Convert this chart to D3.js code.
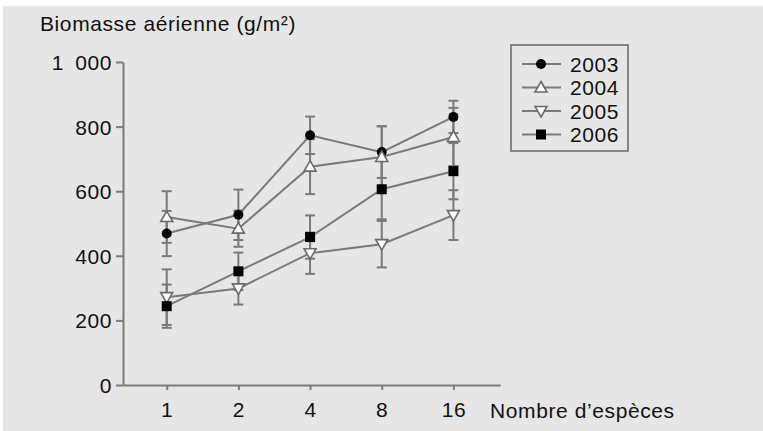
<!DOCTYPE html>
<html lang="fr">
<head>
<meta charset="UTF-8">
<script src="https://d3js.org/d3.v7.min.js"></script>
<style>
    body { margin: 0; background: #fff; }
    svg { display: block; }
    text { font-family: "Liberation Sans", Arial, sans-serif; fill: #111; }
</style>
</head>
<body>
<svg width="763" height="431"></svg>
<script>
const species = [1, 2, 4, 8, 16];
const years = ["2003", "2004", "2005", "2006"];
const yTicks = [0, 200, 400, 600, 800, 1000];
const yTickLabels = ["0", "200", "400", "600", "800", "1\u2002000"];

// biomasse moyenne (g/m²) et erreur standard
const mean2003 = [469, 527, 773, 721, 830];
const err2003  = [70, 78, 58, 80, 50];
const mean2004 = [520, 484, 676, 706, 768];
const err2004  = [80, 56, 85, 95, 90];
const mean2005 = [272, 299, 408, 436, 526];
const err2005  = [86, 50, 64, 72, 77];
const mean2006 = [244, 352, 458, 606, 662];
const err2006  = [67, 58, 67, 93, 87];

const series = [
    {year: "2003", mean: mean2003, err: err2003, shape: "circle"},
    {year: "2004", mean: mean2004, err: err2004, shape: "up"},
    {year: "2005", mean: mean2005, err: err2005, shape: "down"},
    {year: "2006", mean: mean2006, err: err2006, shape: "square"}
];

const svg = d3.select("svg");
const grey = "#7a7a7a";
const fontSize = "21px";
const spacing = "0.6px";

svg.append("rect").attr("x", 3).attr("y", 6).attr("width", 760).attr("height", 425).attr("fill", "#e6e6e6");

// index log2 of species count
const x = d3.scaleLinear().domain([-0.61, 4.65]).range([123, 500]);
const y = d3.scaleLinear().domain([0, 1000]).range([385, 62]);

function styleText(sel) {
    sel.style("font-size", fontSize).style("letter-spacing", spacing).attr("fill", "#111")
        .style("font-family", "Liberation Sans, Arial, sans-serif");
}

// y axis
const yAxis = svg.append("g").attr("transform", "translate(123,0)")
    .call(d3.axisLeft(y).tickValues(yTicks).tickSize(7).tickSizeOuter(0)
        .tickFormat((d, i) => yTickLabels[i]));
yAxis.select(".domain").attr("stroke", grey).attr("stroke-width", 2);
yAxis.selectAll(".tick line").attr("stroke", grey).attr("stroke-width", 2);
yAxis.selectAll(".tick text").attr("x", -11).attr("dy", "0.36em").call(styleText);

// x axis
const xAxis = svg.append("g").attr("transform", "translate(0,385)")
    .call(d3.axisBottom(x).tickValues(species.map(s => Math.log2(s))).tickSize(5).tickSizeOuter(0)
        .tickFormat((d, i) => species[i]));
xAxis.select(".domain").attr("stroke", grey).attr("stroke-width", 2);
xAxis.selectAll(".tick line").attr("stroke", grey).attr("stroke-width", 2);
xAxis.selectAll(".tick text").attr("y", 17).attr("dy", "0.71em").call(styleText);

svg.append("text").attr("x", 490).attr("y", 418).call(styleText).text("Nombre d’espèces");
svg.append("text").attr("x", 40).attr("y", 31).call(styleText).text("Biomasse aérienne (g/m²)");

const plot = svg.append("g");

// error bars
series.forEach(s => {
    s.mean.forEach((m, i) => {
        const cx = x(Math.log2(species[i]));
        const g = plot.append("g").attr("stroke", grey).attr("stroke-width", 2);
        g.append("line").attr("x1", cx).attr("x2", cx).attr("y1", y(m - s.err[i])).attr("y2", y(m + s.err[i]));
        [m - s.err[i], m + s.err[i]].forEach(v => {
            g.append("line").attr("x1", cx - 5).attr("x2", cx + 5).attr("y1", y(v)).attr("y2", y(v));
        });
    });
});

const line = d3.line().x((d, i) => x(Math.log2(species[i]))).y(d => y(d));
series.forEach(s => {
    plot.append("path").datum(s.mean).attr("d", line)
        .attr("fill", "none").attr("stroke", grey).attr("stroke-width", 2);
});

function marker(g, shape, cx, cy) {
    if (shape === "circle") {
        g.append("circle").attr("cx", cx).attr("cy", cy).attr("r", 5).attr("fill", "#000");
    } else if (shape === "square") {
        g.append("rect").attr("x", cx - 5).attr("y", cy - 5).attr("width", 10).attr("height", 10).attr("fill", "#000");
    } else {
        const s = shape === "up" ? 1 : -1;
        g.append("path")
            .attr("d", `M${cx},${cy - 6 * s} L${cx + 6},${cy + 4.5 * s} L${cx - 6},${cy + 4.5 * s} Z`)
            .attr("fill", "#fff").attr("stroke", "#6a6a6a").attr("stroke-width", 1.6);
    }
}

series.forEach(s => {
    s.mean.forEach((m, i) => marker(plot, s.shape, x(Math.log2(species[i])), y(m)));
});

// legend
const legend = svg.append("g");
legend.append("rect").attr("x", 511).attr("y", 45).attr("width", 117).attr("height", 106)
    .attr("fill", "none").attr("stroke", "#666").attr("stroke-width", 1.5);
series.forEach((s, i) => {
    const ly = 64 + i * 23.5;
    legend.append("line").attr("x1", 522).attr("x2", 561).attr("y1", ly).attr("y2", ly)
        .attr("stroke", grey).attr("stroke-width", 2);
    marker(legend, s.shape, 541, ly);
    legend.append("text").attr("x", 570).attr("y", ly).attr("dy", "0.36em")
        .call(styleText).text(years[i]);
});
</script>
</body>
</html>
